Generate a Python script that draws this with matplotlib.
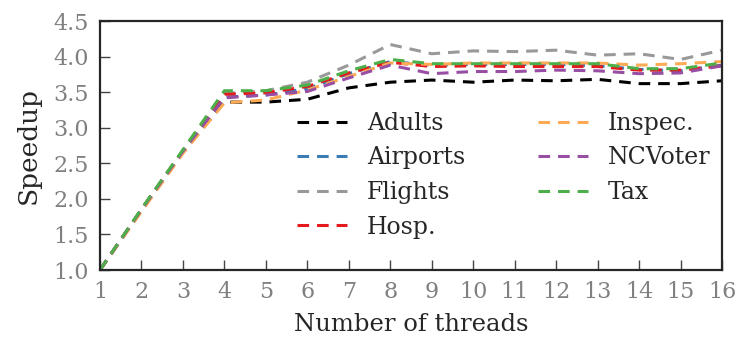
import numpy as np
import matplotlib
matplotlib.use("Agg")
import matplotlib.pyplot as plt

threads = np.arange(1, 17)

adults = [1.00, 1.84, 2.66, 3.36, 3.36, 3.40, 3.56, 3.64, 3.67, 3.64, 3.67, 3.66, 3.68, 3.62, 3.62, 3.66]
airports = [1.00, 1.85, 2.67, 3.43, 3.46, 3.55, 3.76, 3.93, 3.88, 3.89, 3.89, 3.89, 3.87, 3.82, 3.80, 3.88]
flights = [1.00, 1.85, 2.68, 3.48, 3.52, 3.64, 3.88, 4.17, 4.04, 4.08, 4.07, 4.09, 4.02, 4.04, 3.96, 4.09]
hosp = [1.00, 1.85, 2.67, 3.47, 3.49, 3.58, 3.77, 3.92, 3.86, 3.87, 3.86, 3.86, 3.86, 3.81, 3.81, 3.87]
inspec = [1.00, 1.82, 2.64, 3.35, 3.39, 3.53, 3.72, 3.91, 3.89, 3.91, 3.91, 3.91, 3.91, 3.88, 3.90, 3.93]
ncvoter = [1.00, 1.85, 2.67, 3.42, 3.46, 3.51, 3.70, 3.88, 3.76, 3.79, 3.79, 3.81, 3.80, 3.76, 3.77, 3.87]
tax = [1.00, 1.86, 2.69, 3.52, 3.52, 3.60, 3.80, 3.96, 3.90, 3.90, 3.90, 3.90, 3.90, 3.83, 3.83, 3.91]

names = ["Adults", "Airports", "Flights", "Hosp.", "Inspec.", "NCVoter", "Tax"]
series = [adults, airports, flights, hosp, inspec, ncvoter, tax]
colors = ["#000000", "#3a7db5", "#999999", "#e41a1c", "#fdaa55", "#984ea3", "#4daf4a"]

plt.rcParams["font.family"] = ["DejaVu Serif"]

fig = plt.figure(figsize=(7.39, 3.39), dpi=100)
ax = fig.add_axes([0.1353, 0.2035, 0.8417, 0.7345])

for name, vals, col in zip(names, series, colors):
    ax.plot(threads, vals, color=col, lw=2.2, dashes=(3.8, 2.6), label=name)

ax.set_xlim(1, 16)
ax.set_ylim(1.0, 4.5)
ax.set_xticks(threads)
ax.set_yticks(np.arange(1.0, 4.51, 0.5))
ax.yaxis.set_major_formatter(matplotlib.ticker.FormatStrFormatter("%.1f"))

for sp in ax.spines.values():
    sp.set_linewidth(1.6)
    sp.set_color("#262626")

ax.tick_params(direction="in", length=7, width=1, color="#444444",
               labelsize=16, labelcolor="#808080", pad=8)

ax.set_xlabel("Number of threads", fontsize=17.5, color="#262626", labelpad=7)
ax.set_ylabel("Speedup", fontsize=19, color="#262626", labelpad=9)

leg = ax.legend(ncol=2, frameon=False, fontsize=17, loc="upper left",
                bbox_to_anchor=(0.317, 0.635), borderaxespad=0, borderpad=0,
                handlelength=2.1, columnspacing=3.1, labelspacing=0.49,
                handletextpad=0.85)
for t in leg.get_texts():
    t.set_color("#262626")

fig.savefig("out.png", dpi=100)
